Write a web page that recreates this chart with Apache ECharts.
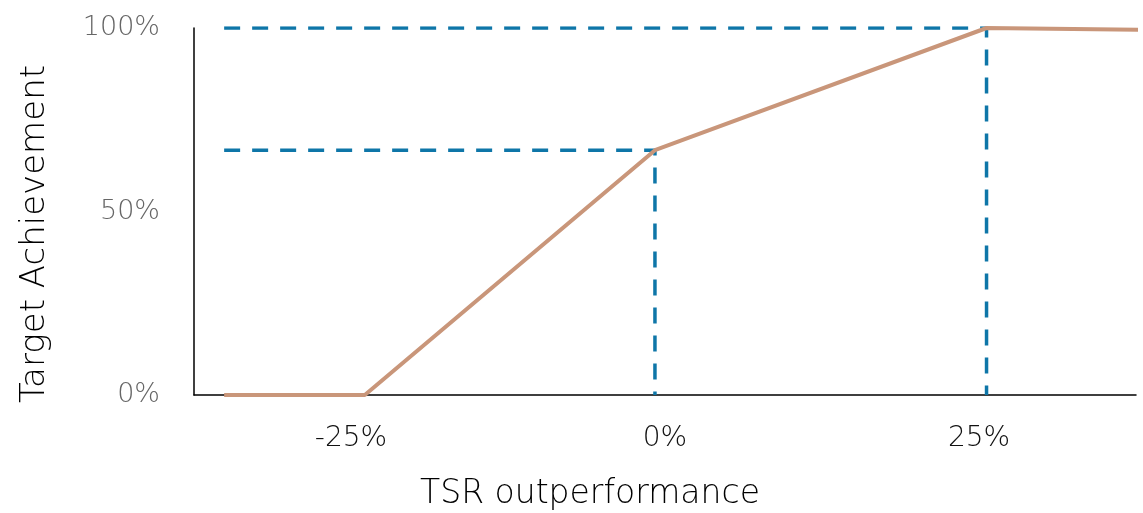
<!DOCTYPE html>
<html><head><meta charset="utf-8">
<script src="https://cdn.jsdelivr.net/npm/echarts@6/dist/echarts.min.js"></script>
<style>html,body{margin:0;padding:0;background:#fff}#c{width:1143px;height:513px}</style>
</head><body><div id="c"></div>
<script>
// Data (x in % TSR outperformance, y in % target achievement)
const curveX = [-35.1, -23.9, -0.8, 25.6, 38.0];
const curveY = [0, 0, 66.7, 100, 99.5];
const guideLowX = [-35.1, -0.8, -0.8];
const guideLowY = [66.7, 66.7, 0];
const guideHighX = [-35.1, 25.6, 25.6];
const guideHighY = [100, 100, 0];
const xTickLabels = ['-25%', '0%', '25%'];
const xTickValues = [-25, 0, 25];
const yTickLabels = ['0%', '50%', '100%'];

const zip = (xs, ys) => xs.map((x, i) => [x, ys[i]]);
const font = '"DejaVu Sans", "Noto Sans", sans-serif';
const chart = echarts.init(document.getElementById('c'));
chart.setOption({
  animation: false,
  grid: {left: 194, top: 28, width: 942, bottom: 118, containLabel: false},
  xAxis: {
    type: 'value', min: -37.5, max: 37.5, interval: 12.5,
    axisLine: {show: true, onZero: false, lineStyle: {color: '#000', width: 1.5}},
    axisTick: {show: false}, splitLine: {show: false},
    axisLabel: {
      margin: 30, fontSize: 28, color: '#111', fontFamily: font, fontWeight: 200,
      formatter: v => { const i = xTickValues.indexOf(v); return i >= 0 ? xTickLabels[i] : ''; }
    }
  },
  yAxis: {
    type: 'value', min: 0, max: 100, interval: 50,
    axisLine: {show: true, onZero: false, lineStyle: {color: '#000', width: 1.5}},
    axisTick: {show: false}, splitLine: {show: false},
    axisLabel: {
      margin: 34, fontSize: 27, color: '#666', fontFamily: font, fontWeight: 200,
      formatter: v => yTickLabels[Math.round(v / 50)]
    }
  },
  graphic: [
    {type: 'text', x: 35, y: 234, rotation: Math.PI / 2,
     style: {text: 'Target Achievement', fontSize: 34, fontFamily: font, fontWeight: 200, fill: '#000',
             textAlign: 'center', textVerticalAlign: 'middle'}},
    {type: 'text', x: 590, y: 494,
     style: {text: 'TSR outperformance', fontSize: 33, fontFamily: font, fontWeight: 200, fill: '#000',
             textAlign: 'center', textVerticalAlign: 'middle'}}
  ],
  series: [
    {type: 'line', data: zip(guideLowX, guideLowY), symbol: 'none', z: 1,
     lineStyle: {color: '#0E76A8', width: 3.5, type: [16, 12]}},
    {type: 'line', data: zip(guideHighX, guideHighY), symbol: 'none', z: 1,
     lineStyle: {color: '#0E76A8', width: 3.5, type: [16, 12]}},
    {type: 'line', data: zip(curveX, curveY), symbol: 'none', z: 3, clip: true,
     lineStyle: {color: '#C9967A', width: 4}}
  ]
});
</script></body></html>
